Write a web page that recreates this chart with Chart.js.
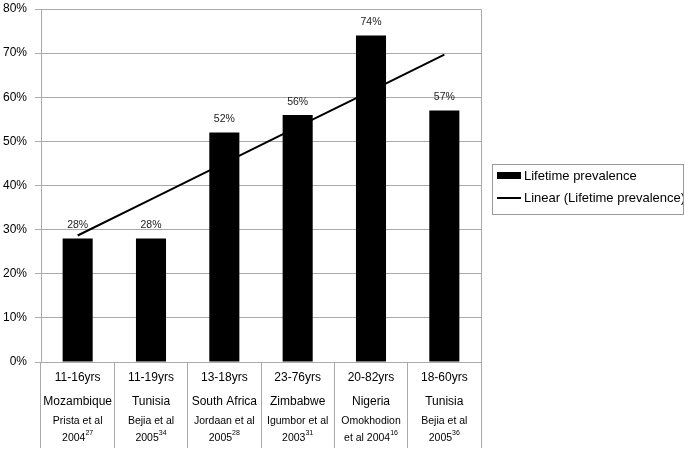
<!DOCTYPE html>
<html>
<head>
<meta charset="utf-8">
<script src="https://cdn.jsdelivr.net/npm/chart.js@4.4.0/dist/chart.umd.min.js"></script>
<style>
  html, body { margin: 0; padding: 0; background: #fff; }
  #wrap { width: 685px; height: 457px; }
</style>
</head>
<body>
<div id="wrap"><canvas id="myChart"></canvas></div>
<script>
const ages = ['11-16yrs', '11-19yrs', '13-18yrs', '23-76yrs', '20-82yrs', '18-60yrs'];
const countries = ['Mozambique', 'Tunisia', 'South Africa', 'Zimbabwe', 'Nigeria', 'Tunisia'];
const refLine1 = ['Prista et al', 'Bejia et al', 'Jordaan et al', 'Igumbor et al', 'Omokhodion', 'Bejia et al'];
const refLine2 = ['2004', '2005', '2005', '2003', 'et al 2004', '2005'];
const refNotes = ['27', '34', '28', '31', '16', '36'];
const prevalence = [28, 28, 52, 56, 74, 57];
const yTicks = [0, 10, 20, 30, 40, 50, 60, 70, 80];

// linear trend (least squares) like the spreadsheet trendline
const n = prevalence.length;
const mx = (n + 1) / 2;
const my = prevalence.reduce((a, b) => a + b, 0) / n;
let sxy = 0, sxx = 0;
prevalence.forEach((v, i) => { sxy += (i + 1 - mx) * (v - my); sxx += (i + 1 - mx) ** 2; });
const slope = sxy / sxx;
const trend = prevalence.map((v, i) => my + slope * (i + 1 - mx));

const FONT = '"Liberation Sans", Arial, sans-serif';
const gridGray = '#aaaaaa';

const extras = {
  id: 'extras',
  afterDraw(chart) {
    const ctx = chart.ctx;
    const area = chart.chartArea;
    const xs = chart.scales.x;
    ctx.save();

    // top and right border of the plot
    ctx.strokeStyle = gridGray;
    ctx.lineWidth = 1;
    ctx.beginPath();
    ctx.moveTo(area.left, area.top + 0.5);
    ctx.lineTo(area.right + 0.5, area.top + 0.5);
    ctx.lineTo(area.right + 0.5, area.bottom);
    ctx.stroke();

    // value labels above bars
    ctx.fillStyle = '#222';
    ctx.font = '10.5px ' + FONT;
    ctx.textAlign = 'center';
    ctx.textBaseline = 'bottom';
    chart.getDatasetMeta(1).data.forEach((bar, i) => {
      ctx.fillText(prevalence[i] + '%', bar.x, bar.y - 8);
    });

    // category labels
    ctx.fillStyle = '#000';
    ctx.textBaseline = 'middle';
    ages.forEach((a, i) => {
      const x = xs.getPixelForValue(i);
      ctx.textAlign = 'center';
      ctx.font = '12px ' + FONT;
      ctx.fillText(a, x, 378);
      ctx.fillText(countries[i], x, 402);
      ctx.font = '10.5px ' + FONT;
      ctx.fillText(refLine1[i], x, 421);
      const w1 = ctx.measureText(refLine2[i]).width;
      ctx.font = '7px ' + FONT;
      const w2 = ctx.measureText(refNotes[i]).width;
      const start = x - (w1 + w2) / 2;
      ctx.textAlign = 'left';
      ctx.font = '10.5px ' + FONT;
      ctx.fillText(refLine2[i], start, 438);
      ctx.font = '7px ' + FONT;
      ctx.fillText(refNotes[i], start + w1, 433);
    });

    // legend
    const lx = 492, ly = 164, lw = 191, lh = 50;
    ctx.strokeStyle = '#999';
    ctx.lineWidth = 1;
    ctx.strokeRect(lx + 0.5, ly + 0.5, lw, lh);
    ctx.fillStyle = '#000';
    ctx.fillRect(497, 172, 24, 7);
    ctx.strokeStyle = '#000';
    ctx.lineWidth = 2;
    ctx.beginPath();
    ctx.moveTo(497, 198);
    ctx.lineTo(521, 198);
    ctx.stroke();
    ctx.beginPath();
    ctx.rect(lx, ly, lw, lh);
    ctx.clip();
    ctx.font = '13px ' + FONT;
    ctx.textAlign = 'left';
    ctx.fillText(chart.data.datasets[1].label, 524, 176);
    ctx.fillText(chart.data.datasets[0].label, 524, 198);
    ctx.restore();
  }
};

new Chart(document.getElementById('myChart'), {
  data: {
    labels: ages,
    datasets: [{
      type: 'line',
      label: 'Linear (Lifetime prevalence)',
      data: trend,
      borderColor: '#000',
      borderWidth: 2,
      pointRadius: 0,
      order: 0
    }, {
      type: 'bar',
      label: 'Lifetime prevalence',
      data: prevalence,
      backgroundColor: '#000',
      barPercentage: 0.41,
      categoryPercentage: 1,
      order: 1
    }]
  },
  options: {
    responsive: true,
    maintainAspectRatio: false,
    devicePixelRatio: 1,
    animation: false,
    layout: { padding: { left: 0, top: 9, right: 204, bottom: 9 } },
    plugins: {
      legend: { display: false },
      tooltip: { enabled: false }
    },
    scales: {
      x: {
        grid: { offset: true, drawOnChartArea: false, drawTicks: true, tickLength: 86, color: gridGray },
        border: { color: gridGray },
        ticks: { display: false },
        afterFit(scale) { scale.height = 86; scale.paddingLeft = 0; scale.paddingRight = 0; }
      },
      y: {
        min: 0,
        max: 80,
        afterBuildTicks(scale) { scale.ticks = yTicks.map(v => ({ value: v })); },
        grid: { color: gridGray, tickLength: 6 },
        border: { color: gridGray },
        ticks: {
          color: '#000',
          padding: 8,
          font: { family: FONT, size: 12 },
          callback: v => v + '%'
        },
        afterFit(scale) { scale.width = 41; scale.paddingTop = 0; scale.paddingBottom = 0; }
      }
    }
  },
  plugins: [extras]
});
</script>
</body>
</html>
